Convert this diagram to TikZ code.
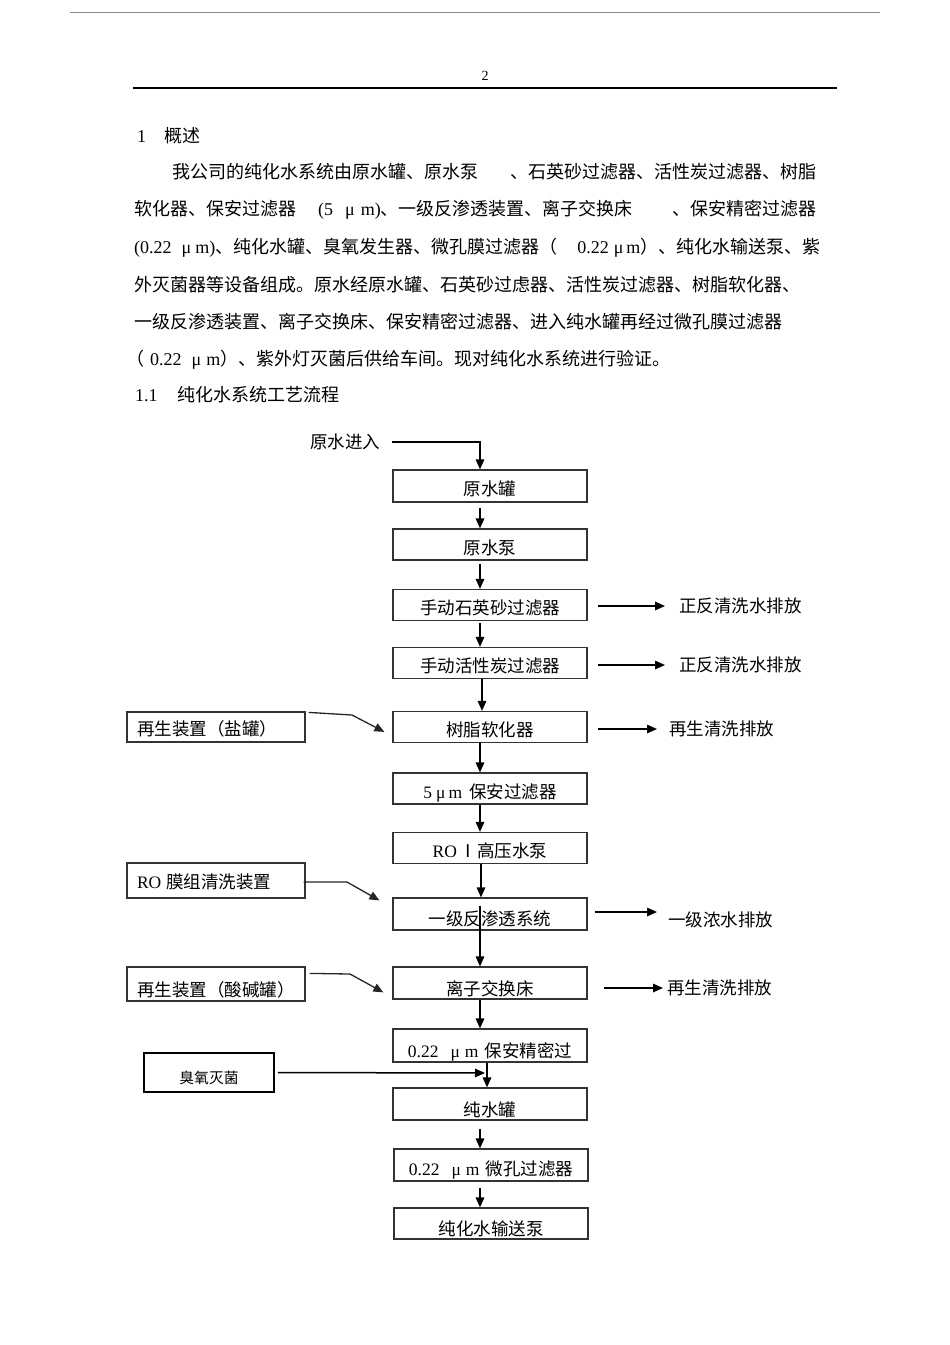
\documentclass[tikz,border=0pt]{standalone}
\usepackage{fontspec}
\setmainfont{Liberation Serif}
\newfontfamily\cjk{Noto Sans CJK SC}
\usetikzlibrary{arrows.meta}
\newcommand\latn[1]{{\rmfamily #1}}
\newcommand\umu[2]{\latn{\hspace{#1}μ\hspace{#2}m}}
\begin{document}
\begin{tikzpicture}[x=1pt,y=-1pt,
  every node/.style={inner sep=0pt},
  box/.style={draw=black!80, line width=1.2pt, minimum width=194pt, inner sep=0pt,
    font=\cjk\fontsize{17.5}{20}\selectfont},
  dn/.code={\pgfmathsetmacro\myth{19.65+#1}\pgfmathsetmacro\mytd{6.35-#1}%
    \tikzset{text height=\myth pt,text depth=\mytd pt}},
  side/.style={box, minimum width=178pt, text width=158pt, align=left},
  lbl/.style={anchor=west, font=\cjk\fontsize{17.5}{20}\selectfont},
  para/.style={anchor=base west, font=\cjk\fontsize{18}{20}\selectfont},
  arr/.style={line width=1.5pt, -{Triangle[length=10pt,width=8.5pt]}},
  link/.style={line width=1.3pt, black!85, -{Triangle[length=10pt,width=8.5pt]}}
]
\useasboundingbox (0,0) rectangle (950,1345);
\fill[white] (0,0) rectangle (950,1345);

% page header
\draw[black!45, line width=1pt] (70,12) -- (880,12);
\node[font=\fontsize{14}{16}\selectfont] (pg) at (485,76) {2};
\draw[line width=2pt] (133,88) -- (837,88);

% text
\node[para] (h1) at (137,142) {\latn{1}\hspace{18pt}概述};
\node[para] (p1) at (172,178) {我公司的纯化水系统由原水罐、原水泵\hspace{32pt}、石英砂过滤器、活性炭过滤器、树脂};
\node[para] (p2) at (134,215) {软化器、保安过滤器\hspace{22pt}\latn{(5}\umu{12pt}{6pt}\latn{)}、一级反渗透装置、离子交换床\hspace{40pt}、保安精密过滤器};
\node[para] (p3) at (134,253) {\latn{(0.22}\umu{10pt}{4pt}\latn{)}、纯化水罐、臭氧发生器、微孔膜过滤器（\hspace{20pt}\latn{0.22}\umu{5pt}{3pt}）、纯化水输送泵、紫};
\node[para] (p4) at (134,291) {外灭菌器等设备组成。原水经原水罐、石英砂过虑器、活性炭过滤器、树脂软化器、};
\node[para] (p5) at (134,328) {一级反渗透装置、离子交换床、保安精密过滤器、进入纯水罐再经过微孔膜过滤器};
\node[para] (p6) at (126,365) {（\hspace{6pt}\latn{0.22}\umu{10pt}{5pt}）、紫外灯灭菌后供给车间。现对纯化水系统进行验证。};
\node[para] (h2) at (135,401) {\latn{1.1}\hspace{20pt}纯化水系统工艺流程};

% main column
\node[lbl] (in0) at (310,442) {原水进入};
\node[box, minimum height=32pt, dn=3] (b1) at (490,486) {原水罐};
\node[box, minimum height=31pt, dn=3] (b2) at (490,544.5) {原水泵};
\node[box, minimum height=31pt, dn=2.5] (b3) at (490,605) {手动石英砂过滤器};
\node[box, minimum height=31pt, dn=2.5] (b4) at (490,663) {手动活性炭过滤器};
\node[box, minimum height=31pt, dn=2.5] (b5) at (490,727) {树脂软化器};
\node[box, minimum height=31pt, dn=3] (b6) at (490,788.5) {\latn{5}\umu{4pt}{3pt}\hspace{7pt}保安过滤器};
\node[box, minimum height=31pt, dn=3] (b7) at (490,848) {\latn{RO}\hspace{3pt}Ⅰ高压水泵};
\node[box, minimum height=32pt, dn=5] (b8) at (490,914) {一级反渗透系统};
\node[box, minimum height=32pt, dn=5.5] (b9) at (490,983) {离子交换床};
\node[box, minimum height=33pt, dn=5] (b10) at (490,1045.5) {\latn{0.22}\umu{12pt}{5pt}\hspace{6pt}保安精密过};
\node[box, minimum height=32pt, dn=6] (b11) at (490,1104) {纯水罐};
\node[box, minimum height=32pt, dn=4] (b12) at (491,1165) {\latn{0.22}\umu{12pt}{5pt}\hspace{6pt}微孔过滤器};
\node[box, minimum height=31pt, dn=5.5] (b13) at (491,1223.5) {纯化水输送泵};

% side boxes
\node[side, minimum height=30pt, dn=2] (L1) at (216,727) {再生装置（盐罐）};
\node[side, minimum height=35pt, dn=1.5] (L2) at (216,880.5) {\latn{RO}\hspace{5pt}膜组清洗装置};
\node[side, minimum height=34pt, dn=5.5] (L3) at (216,984) {再生装置（酸碱罐）};
\node[box, draw=black, line width=1.8pt, minimum width=130pt, minimum height=39pt,
  font=\cjk\fontsize{14.8}{17}\selectfont, dn=4.5] (oz) at (209,1072.5) {臭氧灭菌};

% outputs
\node[lbl] (o3) at (679,606) {正反清洗水排放};
\node[lbl] (o4) at (679,665) {正反清洗水排放};
\node[lbl] (o5) at (669,729) {再生清洗排放};
\node[lbl] (o8) at (668,920) {一级浓水排放};
\node[lbl] (o9) at (667,988) {再生清洗排放};

% main flow
\coordinate (c0) at (480,442);
\draw[arr] ([xshift=12pt]in0.east) -- (c0) -- (c0 |- b1.north);
\draw[arr, shorten <=5pt] ([xshift=-10pt]b1.south) -- ([xshift=-10pt]b2.north);
\draw[arr, shorten <=3pt] ([xshift=-10pt]b2.south) -- ([xshift=-10pt]b3.north);
\draw[arr, shorten <=2pt] ([xshift=-10pt]b3.south) -- ([xshift=-10pt]b4.north);
\draw[arr] ([xshift=-8pt]b4.south) -- ([xshift=-8pt]b5.north);
\draw[arr] ([xshift=-10pt]b5.south) -- ([xshift=-10pt]b6.north);
\draw[arr] ([xshift=-10pt]b6.south) -- ([xshift=-10pt]b7.north);
\draw[arr] ([xshift=-9pt]b7.south) -- ([xshift=-9pt]b8.north);
\draw[arr] ([shift={(-10,-25)}]b8.south) -- ([xshift=-10pt]b9.north);
\draw[arr] ([xshift=-10pt]b9.south) -- ([xshift=-10pt]b10.north);
\coordinate (m1) at (487,1073);
\draw[arr] (b10.south -| m1) -- (b11.north -| m1);
\draw[arr, shorten >=2pt] ([xshift=3pt]oz.east) -- (m1);
\draw[arr, shorten <=8pt] ([xshift=-10pt]b11.south) -- ([xshift=-11pt]b12.north);
\draw[arr, shorten <=6pt] ([xshift=-11pt]b12.south) -- ([xshift=-11pt]b13.north);

% discharges
\draw[arr, shorten <=10pt, shorten >=14pt] (o3.west -| b3.east) -- (o3.west);
\draw[arr, shorten <=10pt, shorten >=14pt] (o4.west -| b4.east) -- (o4.west);
\draw[arr, shorten <=10pt, shorten >=12pt] (o5.west -| b5.east) -- (o5.west);
\draw[arr] ([shift={(7,-2)}]b8.east) -- ([shift={(-11,-8)}]o8.west);
\draw[arr, shorten <=16pt, shorten >=4pt] (o9.west -| b9.east) -- (o9.west);

% regeneration inputs
\coordinate (k1) at (352,715);
\draw[link] ([shift={(3,1)}]L1.north east) -- (k1) -- ([shift={(-8,21)}]b5.north west);
\coordinate (k2) at (347,882);
\draw[link] ([shift={(-2,1.5)}]L2.east) -- (k2) -- ([shift={(-13,3)}]b8.north west);
\coordinate (k3) at (350,974);
\draw[link] ([shift={(4,7)}]L3.north east) -- (k3) -- ([shift={(-9,26)}]b9.north west);
\end{tikzpicture}
\end{document}
